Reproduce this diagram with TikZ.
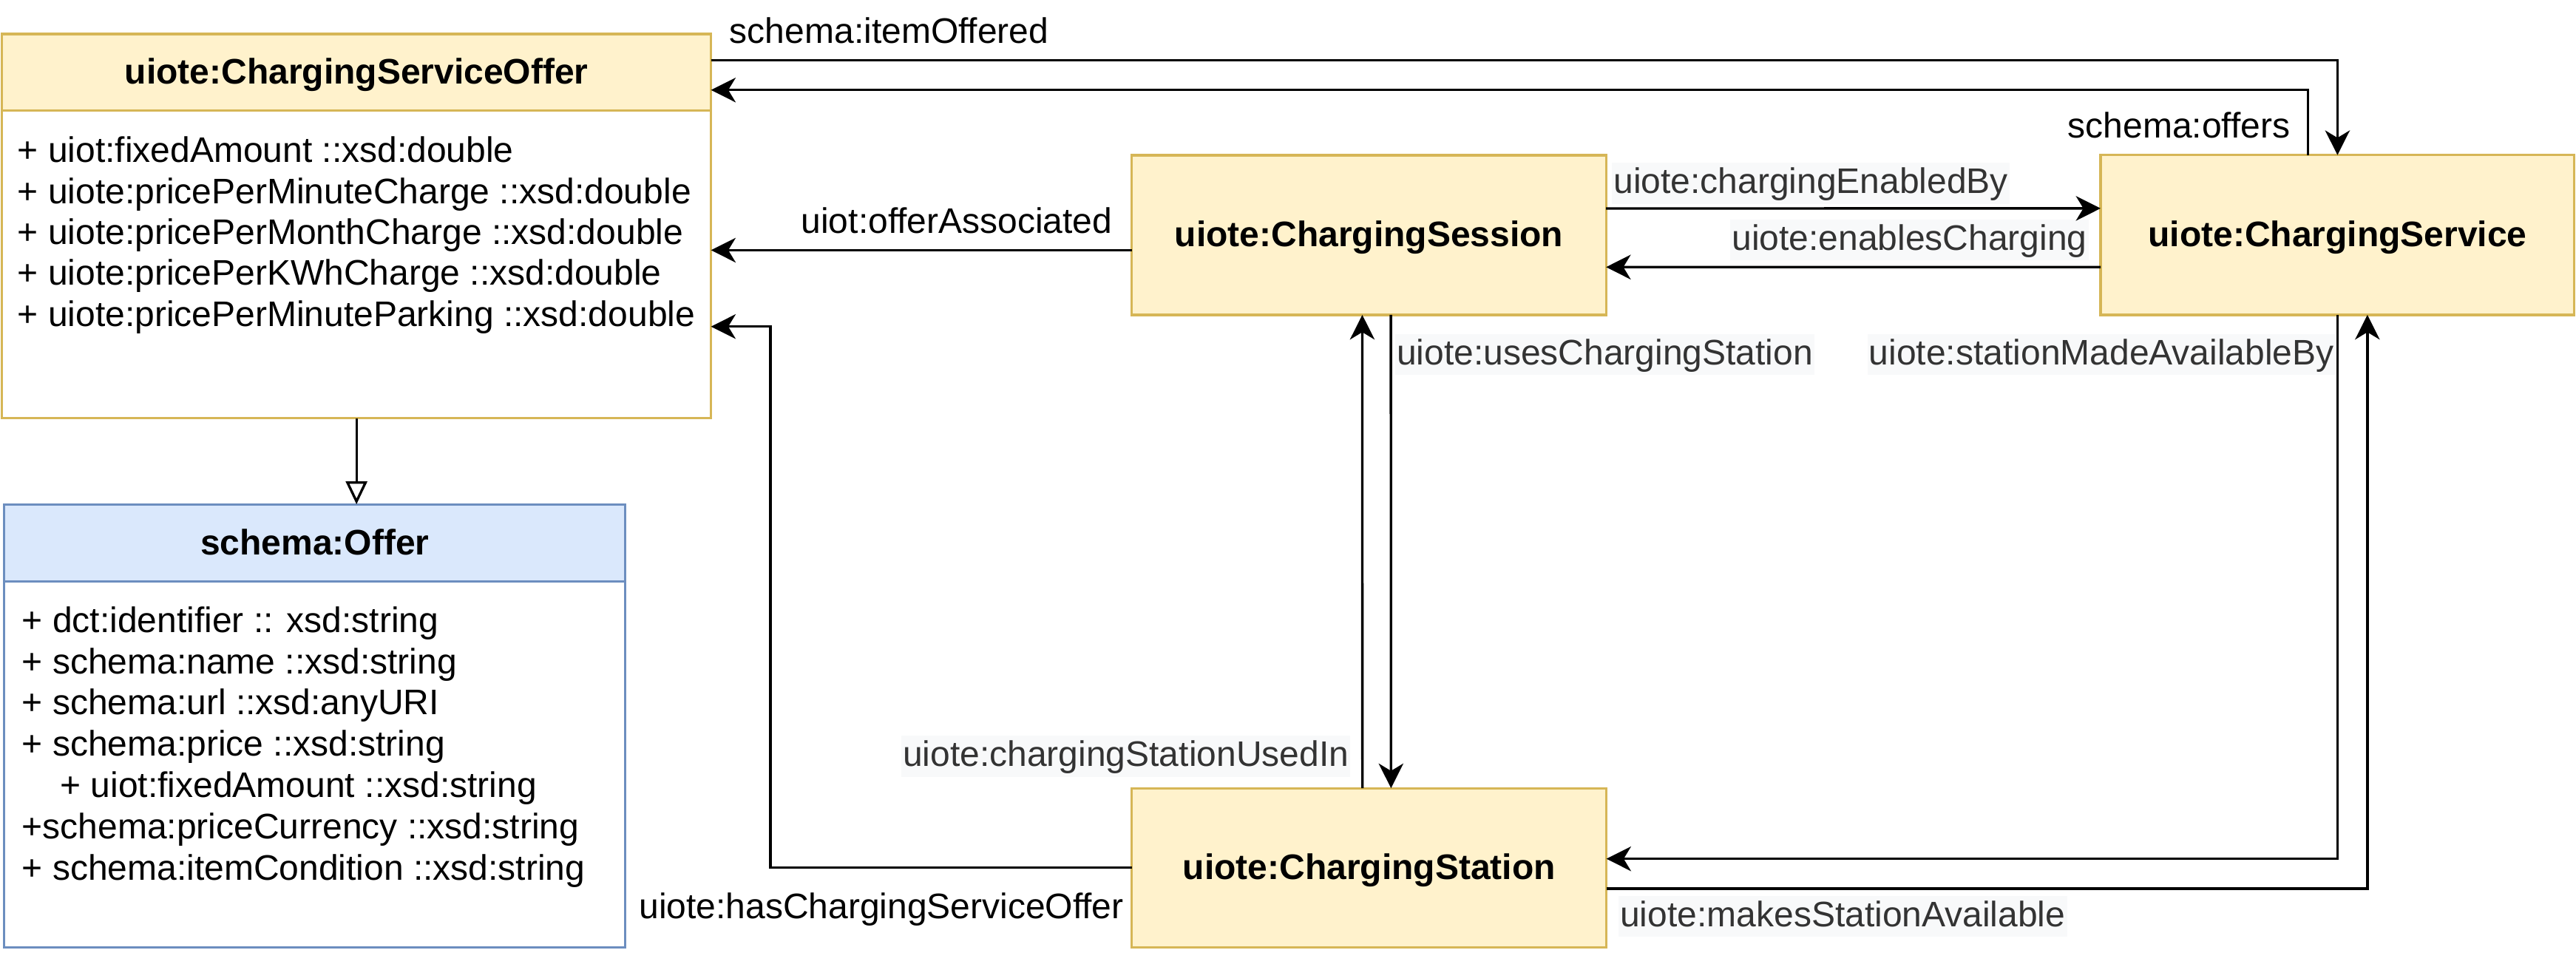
\documentclass[tikz,border=0pt]{standalone}
\usepackage{fontspec}
\setmainfont{Liberation Sans}
\usetikzlibrary{arrows.meta,calc}
\definecolor{yfill}{HTML}{FFF2CC}
\definecolor{ystroke}{HTML}{D6B656}
\definecolor{bfill}{HTML}{DAE8FC}
\definecolor{bstroke}{HTML}{6C8EBF}
\definecolor{lblbg}{HTML}{F8F9FA}
\definecolor{lbltxt}{HTML}{333333}
\begin{document}
\begin{tikzpicture}[x=1pt,y=-1pt,
  every node/.style={font=\fontsize{21.6}{25}\selectfont},
  box/.style={draw, line width=1.4pt, inner sep=0pt, outer sep=0pt, anchor=north west},
  ttl/.style={font=\fontsize{21.6}{25}\selectfont\bfseries, text height=19.4pt, text depth=5pt},
  ybody/.style={box, draw=ystroke, fill=white},
  yhead/.style={box, draw=ystroke, fill=yfill, ttl},
  bbody/.style={box, draw=bstroke, fill=white},
  bhead/.style={box, draw=bstroke, fill=bfill, ttl},
  attr/.style={anchor=base west, inner sep=0pt},
  lbl/.style={anchor=base west, inner sep=0pt},
  lblbox/.style={anchor=base west, fill=lblbg, text=lbltxt, inner xsep=1pt, inner ysep=0pt, text height=18.8pt, text depth=6.2pt},
  conn/.style={draw, line width=1.5pt, -{Stealth[length=15pt,width=15pt,inset=4.5pt]}},
  gen/.style={draw, line width=1.5pt, -{Triangle[open,length=14pt,width=13pt,fill=white]}},
]
\useasboundingbox (0,0) rectangle (1568,588.6);

% ChargingServiceOffer class
\node[ybody, minimum width=431.6pt, minimum height=233.9pt] (cso) at (1.2,20.7) {};
\node[yhead, minimum width=431.6pt, minimum height=46.5pt] (csoh) at (1.2,20.7) {uiote:ChargingServiceOffer};
\node[attr] (a1) at (10.5,99) {+ uiot:fixedAmount ::xsd:double};
\node[attr] (a2) at (10.5,123.9) {+ uiote:pricePerMinuteCharge ::xsd:double};
\node[attr] (a3) at (10.5,148.8) {+ uiote:pricePerMonthCharge ::xsd:double};
\node[attr] (a4) at (10.5,173.7) {+ uiote:pricePerKWhCharge ::xsd:double};
\node[attr] (a5) at (10.5,198.6) {+ uiote:pricePerMinuteParking ::xsd:double};

% schema:Offer class
\node[bbody, minimum width=378pt, minimum height=269.9pt] (off) at (2.6,307) {};
\node[bhead, minimum width=378pt, minimum height=47pt] (offh) at (2.6,307) {schema:Offer};
\node[attr] (b1) at (13.2,385) {+ dct:identifier :: xsd:string};
\node[attr] (b2) at (13.2,410.1) {+ schema:name ::xsd:string};
\node[attr] (b3) at (13.2,435.2) {+ schema:url ::xsd:anyURI};
\node[attr] (b4) at (13.2,460.3) {+ schema:price ::xsd:string};
\node[attr] (b5) at (36.5,485.4) {+ uiot:fixedAmount ::xsd:string};
\node[attr] (b6) at (13.2,510.5) {+schema:priceCurrency ::xsd:string};
\node[attr] (b7) at (13.2,535.6) {+ schema:itemCondition ::xsd:string};

% simple classes
\node[box, draw=ystroke, fill=yfill, ttl, minimum width=288.6pt, minimum height=97.2pt] (cs) at (689,94.5) {uiote:ChargingSession};
\node[box, draw=ystroke, fill=yfill, ttl, minimum width=288.4pt, minimum height=97.3pt] (csv) at (1278.6,94.4) {uiote:ChargingService};
\node[box, draw=ystroke, fill=yfill, ttl, minimum width=288.8pt, minimum height=96.8pt] (cst) at (689,479.8) {uiote:ChargingStation};

% labels (drawn before connectors so lines stay visible)
\node[lbl] (l1) at (444,26.2) {schema:itemOffered};
\node[lbl] (l2) at (1258.5,84) {schema:offers};
\node[lbl] (l3) at (487.5,141.8) {uiot:offerAssociated};
\node[lblbox] (l4) at (981,117.8) {uiote:chargingEnabledBy};
\node[lblbox] (l5) at (1053,152.4) {uiote:enablesCharging};
\node[lblbox] (l6) at (849,222.2) {uiote:usesChargingStation};
\node[lblbox] (l7) at (1136.5,222.2) {uiote:stationMadeAvailableBy};
\node[lblbox] (l8) at (548.4,466.7) {uiote:chargingStationUsedIn};
\node[lbl] (l9) at (388.8,559.2) {uiote:hasChargingServiceOffer};
\node[lblbox] (l10) at (985,564.2) {uiote:makesStationAvailable};

% connectors
\draw[gen] (cso.south) -- (cso.south |- offh.north);
\draw[conn] ($(cso.north east)+(0,16.1)$) -| (csv.north);
\draw[conn] ($(csv.north)+(-18,0)$) |- ($(cso.north east)+(0,34.1)$);
\coordinate (oa) at ($(cs.west)+(0,9.2)$);
\draw[conn] (oa) -- (oa -| cso.east);
\draw[conn] ($(cs.east)+(0,-16.2)$) -- ($(csv.west)+(0,-16.2)$);
\draw[conn] ($(csv.west)+(0,19.5)$) -- ($(cs.east)+(0,19.5)$);
\draw[conn] ($(cs.south)+(13.3,0)$) -- ($(cst.north)+(13.3,0)$);
\draw[conn] ($(cst.north)+(-4.1,0)$) -- ($(cs.south)+(-4.1,0)$);
\draw[conn] (csv.south) |- ($(cst.east)+(0,-5.4)$);
\draw[conn] ($(cst.east)+(0,12.8)$) -| ($(csv.south)+(18.2,0)$);
\coordinate (hb) at (469,198.8);
\draw[conn] (cst.west) -| (hb) -- (hb -| cso.east);
\end{tikzpicture}
\end{document}
